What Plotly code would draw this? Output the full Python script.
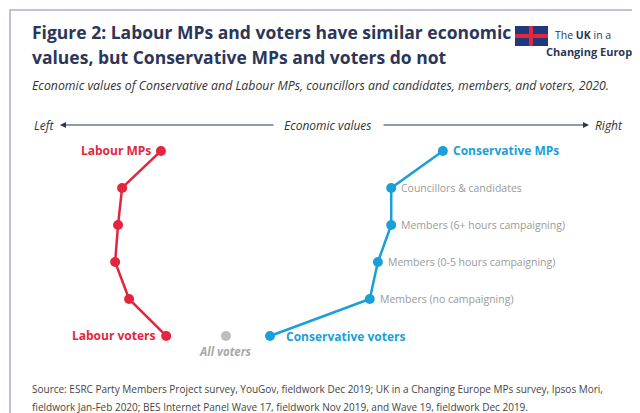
import plotly.graph_objects as go

# rows from top (0) to bottom (5)
rows = [0, 1, 2, 3, 4, 5]
labour = [21.2, 14.5, 13.8, 13.3, 15.7, 22.1]
conservative = [69.8, 60.9, 60.9, 58.6, 57.2, 40.0]
all_voters = 32.4
con_labels = ["Conservative MPs", "Councillors & candidates", "Members (6+ hours campaigning)",
              "Members (0-5 hours campaigning)", "Members (no campaigning)", "Conservative voters"]

RED = "#e3263d"
BLUE = "#1a9fd9"
NAVY = "#2b3658"
GREY = "#a8a8a8"

L, R, T, B = 30, 30, 130, 68
PW, PH = 640 - L - R, 413 - T - B


def px(x):
    return (x - L) / PW


def py(y):
    return (413 - B - y) / PH


fig = go.Figure()
fig.add_trace(go.Scatter(x=labour, y=rows, mode="lines+markers",
                         line=dict(color=RED, width=2.5), marker=dict(size=10, color=RED)))
fig.add_trace(go.Scatter(x=conservative, y=rows, mode="lines+markers",
                         line=dict(color=BLUE, width=2.5), marker=dict(size=10, color=BLUE)))
fig.add_trace(go.Scatter(x=[all_voters], y=[5], mode="markers",
                         marker=dict(size=10, color="#bdbdbd")))

ann = []
ann.append(dict(x=labour[0], y=0, text="<b>Labour MPs</b>", xanchor="right", xshift=-8,
                font=dict(color=RED, size=12), showarrow=False))
ann.append(dict(x=labour[5], y=5, text="<b>Labour voters</b>", xanchor="right", xshift=-8,
                font=dict(color=RED, size=12), showarrow=False))
for i, t in enumerate(con_labels):
    bold = i in (0, 5)
    ann.append(dict(x=conservative[i], y=i, text=f"<b>{t}</b>" if bold else t,
                    xanchor="left", xshift=(14 if i == 5 else 8),
                    yshift=(-1 if i == 5 else 0),
                    font=dict(color=BLUE if bold else "#9a9a9a", size=12 if bold else 10.5),
                    showarrow=False))
ann.append(dict(x=all_voters, y=5, text="<b><i>All voters</i></b>", yshift=-16,
                font=dict(color=GREY, size=11.5), showarrow=False))

# paper-level texts
def ptext(x, y, text, size, color, anchor="left", family="Open Sans"):
    return dict(x=px(x), y=py(y), xref="paper", yref="paper", text=text, showarrow=False,
                xanchor=anchor, yanchor="middle", font=dict(size=size, color=color, family=family))

ann += [
    ptext(22, 24, "<b>Figure 2: Labour MPs and voters have similar economic</b>", 17.5, NAVY),
    ptext(22, 49, "<b>values, but Conservative MPs and voters do not</b>", 17.5, NAVY),
    ptext(22, 77, "<i>Economic values of Conservative and Labour MPs, councillors and candidates, members, and voters, 2020.</i>", 12.3, "#333"),
    ptext(24, 117, "<i>Left</i>", 12, "#333"),
    ptext(320, 117, "<i>Economic values</i>", 12, "#333", anchor="center"),
    ptext(617, 117, "<i>Right</i>", 12, "#333", anchor="right"),
    ptext(545, 27, "The <b>UK</b> in a", 10.5, NAVY),
    ptext(536, 43, "<b>Changing Europe</b>", 11, NAVY),
    ptext(22, 381, "Source: ESRC Party Members Project survey, YouGov, fieldwork Dec 2019; UK in a Changing Europe MPs survey, Ipsos Mori,", 10, "#444"),
    ptext(22, 399, "fieldwork Jan-Feb 2020; BES Internet Panel Wave 17, fieldwork Nov 2019, and Wave 19, fieldwork Dec 2019.", 10, "#444"),
    # arrows: left arrow points to "Left", right arrow points to "Right"
    dict(x=px(52), y=py(117), ax=215, ay=0, xref="paper", yref="paper",
         axref="pixel", ayref="pixel", text="", showarrow=True, arrowhead=2, arrowsize=1,
         arrowwidth=1.2, arrowcolor=NAVY),
    dict(x=px(581), y=py(117), ax=-207, ay=0, xref="paper", yref="paper",
         axref="pixel", ayref="pixel", text="", showarrow=True, arrowhead=2, arrowsize=1,
         arrowwidth=1.2, arrowcolor=NAVY),
]

shapes = [
    dict(type="rect", xref="paper", yref="paper", x0=px(2), x1=px(638), y0=py(411), y1=py(2),
         line=dict(color="#a9b0cc", width=1.5)),
    # little flag hint for the logo
    dict(type="rect", xref="paper", yref="paper", x0=px(507), x1=px(540), y0=py(38), y1=py(18),
         fillcolor="#1f3a7a", line=dict(width=0)),
    dict(type="line", xref="paper", yref="paper", x0=px(507), x1=px(540), y0=py(28), y1=py(28),
         line=dict(color=RED, width=4)),
    dict(type="line", xref="paper", yref="paper", x0=px(523), x1=px(523), y0=py(38), y1=py(18),
         line=dict(color=RED, width=4)),
]

fig.update_layout(
    width=640, height=413, margin=dict(l=L, r=R, t=T, b=B),
    paper_bgcolor="white", plot_bgcolor="white", showlegend=False,
    font=dict(family="Open Sans", color="#333"),
    xaxis=dict(range=[0, 100], visible=False),
    yaxis=dict(range=[5.46, -0.35], visible=False),
    annotations=ann, shapes=shapes,
)

fig.write_html("out.html")
